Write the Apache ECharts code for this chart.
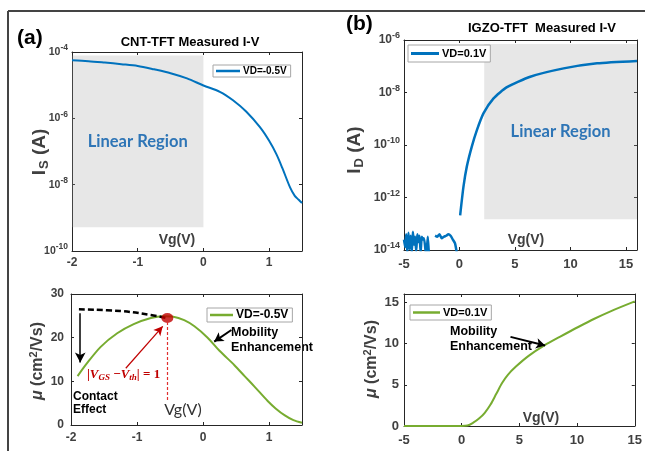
<!DOCTYPE html>
<html>
<head>
<meta charset="utf-8">
<script src="https://cdn.jsdelivr.net/npm/echarts@6/dist/echarts.min.js"></script>
<style>
  html, body { margin: 0; padding: 0; background: #fff; }
  #chart { width: 645px; height: 451px; }
</style>
</head>
<body>
<div id="chart"></div>
<script>
// ---- data ----
// (a) CNT-TFT transfer curve, VD=-0.5V
var cntVg = [-2, -1.75, -1.5, -1.25, -1, -0.75, -0.5, -0.25, 0, 0.25, 0.45, 0.65, 0.86, 1.0, 1.11, 1.2, 1.32, 1.39, 1.45, 1.5];
var cntIs = [5.6e-5, 5.3e-5, 4.8e-5, 4.3e-5, 3.8e-5, 3.0e-5, 2.3e-5, 1.6e-5, 9.8e-6, 6.3e-6, 3.5e-6, 1.6e-6, 5.4e-7, 2.1e-7, 8.3e-8, 3.2e-8, 8.1e-9, 4.6e-9, 3.5e-9, 2.8e-9];
var cntLinear = [[-2, 7.9e-5], [0, 5.2e-10]];

// (b) IGZO-TFT transfer curve, VD=0.1V (null = gap in the trace)
var igzoVg = [-5.0, -4.9, -4.8, -4.7, -4.6, -4.5, -4.4, -4.3, -4.2, -4.1, -4.0, -3.9, -3.8, -3.7, -3.6, -3.5, -3.4, -3.3, -3.2,
              -3.0, -2.85, -2.75, -2.5,
              -2.2, -2.0, -1.8, -1.6, -1.4, -1.2, -1.0, -0.8, -0.6, -0.4, -0.2, 0.0,
              0.06, 0.36, 0.66, 1.11, 1.57, 2.16, 3.07, 4.28, 6.38, 9.39, 12.4, 16];
var igzoId = [2.5e-14, 1.3e-14, 4e-14, 8e-15, 4.5e-14, 1.1e-14, 3.5e-14, 8e-15, 5e-14, 1.6e-14, 3.2e-14, 9e-15, 4e-14, 2e-14, 3.5e-14, 8e-15, 3.2e-14, 2.5e-14, 2.8e-14,
              6e-15, 3.2e-14, 6e-15, null,
              3.5e-14, 3.2e-14, 4e-14, 2.8e-14, 3.2e-14, 3.5e-14, 4e-14, 3.5e-14, 2.5e-14, 1.8e-14, 6e-15, null,
              2.1e-13, 2.6e-12, 1.5e-11, 8.7e-11, 3.7e-10, 1.6e-9, 6.0e-9, 1.6e-8, 4.0e-8, 8.3e-8, 1.3e-7, 1.6e-7];
var igzoLinear = [[2.23, 7.1e-7], [16, 1.5e-13]];

// (a) mobility
var cntMuVg = [-1.9, -1.76, -1.55, -1.3, -1.05, -0.79, -0.6, -0.45, -0.285, -0.13, 0.07, 0.25, 0.476, 0.63, 0.78, 0.98, 1.1, 1.24, 1.37, 1.5];
var cntMu = [11.2, 14.1, 17.9, 21.0, 23.1, 24.5, 24.9, 24.8, 24.0, 22.6, 20.0, 17.0, 13.7, 11.2, 8.8, 5.5, 3.8, 2.2, 1.1, 0.5];
var cntExtrapVg = [-1.88, -1.25, -0.79, -0.56];
var cntExtrapMu = [26.5, 26.1, 25.2, 24.5];
var dotVg = [-0.54];
var dotMu = [24.5];

// (b) mobility
var igzoMuVg = [-5, -2, 0, 0.5, 1, 1.5, 2, 2.5, 3, 3.5, 4, 4.7, 5.8, 7.2, 8.5, 10.1, 11.5, 12.9, 15];
var igzoMu = [0, 0, 0, 0.05, 0.4, 0.9, 1.6, 2.6, 3.9, 5.2, 6.2, 7.2, 8.5, 9.8, 10.8, 12.0, 13.0, 13.9, 15.1];

var legendLabels = { cntIV: 'VD=-0.5V', igzoIV: 'VD=0.1V', cntMu: 'VD=-0.5V', igzoMu: 'VD=0.1V' };

function pairs(xs, ys) {
  return xs.map(function (x, i) { return [x, ys[i]]; });
}

var FONT = 'Liberation Sans';
var AX = '#262626';
var LBL = '#404040';
var BLUE = '#0072BD';
var GREEN = '#77AC30';
var RED = '#C00000';

function logLabel(size, sup) {
  return {
    color: LBL, fontFamily: FONT, fontWeight: 'bold', fontSize: size, margin: 4,
    formatter: function (v) { return '{b|10}{s|' + Math.round(Math.log10(v)) + '}'; },
    rich: {
      b: { fontSize: size, fontWeight: 'bold', fontFamily: FONT, color: LBL },
      s: { fontSize: sup, fontWeight: 'bold', fontFamily: FONT, color: LBL, padding: [0, 0, 8, 0] }
    }
  };
}

// bottom/left axis with labels plus a mirrored top/right one with ticks only
function axisPair(dim, gi, cfg, label) {
  var base = {
    type: cfg.type || 'value', gridIndex: gi, min: cfg.min, max: cfg.max, interval: cfg.interval,
    axisLine: { show: true, onZero: false, lineStyle: { color: AX, width: 1 } },
    axisTick: { show: true, inside: true, length: 3, lineStyle: { color: AX } },
    splitLine: { show: false }
  };
  if (cfg.type === 'log') base.logBase = 10;
  var a = Object.assign({}, base, {
    position: dim === 'x' ? 'bottom' : 'left',
    axisLabel: Object.assign({ showMaxLabel: false }, label)
  });
  var b = Object.assign({}, base, {
    position: dim === 'x' ? 'top' : 'right',
    axisLabel: { show: false }
  });
  return [a, b];
}

function numLabel(size, margin) {
  return { color: LBL, fontFamily: FONT, fontWeight: 'bold', fontSize: size, margin: margin };
}

var xAxes = [].concat(
  axisPair('x', 0, { min: -2, max: 1.5, interval: 1 }, numLabel(12, 6)),
  axisPair('x', 1, { min: -5, max: 16, interval: 5 }, numLabel(13, 8)),
  axisPair('x', 2, { min: -2, max: 1.5, interval: 1 }, numLabel(12, 7)),
  axisPair('x', 3, { min: -5, max: 15, interval: 5 }, Object.assign(numLabel(13, 8), { showMaxLabel: true }))
);
var yAxes = [].concat(
  axisPair('y', 0, { type: 'log', min: 1e-10, max: 1e-4, interval: 2 }, logLabel(10.5, 8.5)),
  axisPair('y', 1, { type: 'log', min: 1e-14, max: 1e-6, interval: 2 }, logLabel(12, 9)),
  axisPair('y', 2, { min: 0, max: 30, interval: 10 }, Object.assign(numLabel(12, 7), { showMaxLabel: true })),
  axisPair('y', 3, { min: 0, max: 16, interval: 5 }, numLabel(13, 5))
);
xAxes[7].axisLabel = { show: false };

function legendFor(name, left, top, fs, iw, ih, pad) {
  return {
    data: [name], left: left, top: top, orient: 'horizontal',
    icon: 'rect', itemWidth: iw, itemHeight: ih, itemGap: 0,
    padding: pad, borderColor: '#a6a6a6', borderWidth: 1, backgroundColor: '#fff',
    borderRadius: 0, selectedMode: false,
    textStyle: { fontFamily: FONT, fontWeight: 'bold', fontSize: fs, color: '#000', padding: [0, 0, 0, -2] },
    formatter: function (n) { return legendLabels[n]; }
  };
}

function arrow(p1, p2, color, width, size) {
  return [
    { coord: p1, symbol: 'none', lineStyle: { color: color, width: width, type: 'solid' } },
    { coord: p2, symbol: 'arrow', symbolSize: size, lineStyle: { color: color, width: width, type: 'solid' } }
  ];
}

var regionLabel = {
  show: true, position: 'inside', color: '#2E75B6',
  fontFamily: 'Lato', fontWeight: 'bold', fontSize: 16.5
};

var option = {
  animation: false,
  backgroundColor: '#fff',
  grid: [
    { left: 72, top: 52, width: 230, height: 199 },
    { left: 404, top: 40, width: 233, height: 210 },
    { left: 71, top: 294, width: 231, height: 131 },
    { left: 404, top: 294, width: 234, height: 132 }
  ],
  xAxis: xAxes,
  yAxis: yAxes,
  legend: [
    legendFor('cntIV', 213, 65, 10, 24, 2.5, [1, 4, 1, 3]),
    legendFor('igzoIV', 408, 45, 11, 28, 3, [3, 4, 3, 3]),
    legendFor('cntMu', 207, 308, 12, 23, 2.5, [1, 4, 1, 3]),
    legendFor('igzoMu', 410, 305, 11, 27, 2.5, [2, 4, 2, 3])
  ],
  series: [
    {
      name: 'cntIV', type: 'line', xAxisIndex: 0, yAxisIndex: 0,
      data: pairs(cntVg, cntIs), showSymbol: false, smooth: 0.3,
      lineStyle: { color: BLUE, width: 2 }, itemStyle: { color: BLUE },
      markArea: {
        silent: true, z: 3,
        itemStyle: { color: 'rgba(160,160,160,0.25)' },
        label: regionLabel,
        data: [[{ coord: cntLinear[0], name: 'Linear Region' }, { coord: cntLinear[1] }]]
      }
    },
    {
      name: 'igzoIV', type: 'line', xAxisIndex: 2, yAxisIndex: 2,
      data: pairs(igzoVg, igzoId), showSymbol: false, connectNulls: false, smooth: 0.2,
      lineStyle: { color: BLUE, width: 2.5 }, itemStyle: { color: BLUE },
      markArea: {
        silent: true, z: 3,
        itemStyle: { color: 'rgba(160,160,160,0.25)' },
        label: regionLabel,
        data: [[{ coord: igzoLinear[0], name: 'Linear Region' }, { coord: igzoLinear[1] }]]
      }
    },
    {
      name: 'cntMu', type: 'line', xAxisIndex: 4, yAxisIndex: 4,
      data: pairs(cntMuVg, cntMu), showSymbol: false, smooth: 0.3,
      lineStyle: { color: GREEN, width: 2 }, itemStyle: { color: GREEN },
      markLine: {
        silent: true, label: { show: false }, symbol: ['none', 'none'],
        data: [
          [
            { coord: [-0.54, 23.6], symbol: 'none', lineStyle: { color: '#E03030', width: 1.2, type: [3, 2] } },
            { coord: [-0.54, 5.3], symbol: 'none', lineStyle: { color: '#E03030', width: 1.2, type: [3, 2] } }
          ],
          arrow([-1.17, 13.0], [-0.61, 22.6], RED, 1.2, [7, 9]),
          arrow([-1.86, 25.6], [-1.86, 14.3], '#000', 1.5, [8, 10]),
          arrow([0.43, 21.75], [0.17, 19.1], '#000', 2, [8, 9])
        ]
      }
    },
    {
      name: 'cntExtrap', type: 'line', xAxisIndex: 4, yAxisIndex: 4,
      data: pairs(cntExtrapVg, cntExtrapMu), showSymbol: false, smooth: 0.4, z: 3,
      lineStyle: { color: '#000', width: 2.5, type: [6, 3] }
    },
    {
      name: 'cntDot', type: 'scatter', xAxisIndex: 4, yAxisIndex: 4, z: 4,
      data: pairs(dotVg, dotMu), symbol: 'circle', symbolSize: [12, 10],
      itemStyle: { color: RED }
    },
    {
      name: 'igzoMu', type: 'line', xAxisIndex: 6, yAxisIndex: 6,
      data: pairs(igzoMuVg, igzoMu), showSymbol: false, smooth: 0.3,
      lineStyle: { color: GREEN, width: 2 }, itemStyle: { color: GREEN },
      markLine: {
        silent: true, label: { show: false }, symbol: ['none', 'none'],
        data: [arrow([4.23, 10.8], [7.23, 9.75], '#000', 2, [8, 9])]
      }
    }
  ]
};

function txt(x, y, text, font, fill, align, extra) {
  return Object.assign({
    type: 'text', x: x, y: y, silent: true,
    style: { text: text, font: font, fill: fill, align: align || 'center', verticalAlign: 'middle' }
  }, extra || {});
}

function yName(x, y, main, sub, rest) {
  return {
    type: 'text', x: x, y: y, rotation: Math.PI / 2, silent: true,
    style: {
      text: '{m|' + main + '}' + (sub ? '{d|' + sub + '}' : '') + '{m|' + rest + '}',
      align: 'center', verticalAlign: 'middle',
      rich: {
        m: { fontFamily: FONT, fontWeight: 'bold', fontSize: 19, fill: LBL },
        d: { fontFamily: FONT, fontWeight: 'bold', fontSize: 13, fill: LBL, padding: [9, 0, 0, 1] }
      }
    }
  };
}

function muName(x, y) {
  return {
    type: 'text', x: x, y: y, rotation: Math.PI / 2, silent: true,
    style: {
      text: '{i|μ}{m| (cm}{s|2}{m|/Vs)}',
      align: 'center', verticalAlign: 'middle',
      rich: {
        i: { fontFamily: FONT, fontWeight: 'bold', fontStyle: 'italic', fontSize: 16, fill: LBL },
        m: { fontFamily: FONT, fontWeight: 'bold', fontSize: 16, fill: LBL },
        s: { fontFamily: FONT, fontWeight: 'bold', fontSize: 11, fill: LBL, padding: [0, 0, 8, 0] }
      }
    }
  };
}

var mathRich = {
  v: { fontFamily: 'Liberation Serif', fontStyle: 'italic', fontWeight: 'bold', fontSize: 13, fill: RED },
  n: { fontFamily: 'Liberation Serif', fontWeight: 'bold', fontSize: 13, fill: RED },
  d: { fontFamily: 'Liberation Serif', fontStyle: 'italic', fontWeight: 'bold', fontSize: 9, fill: RED, padding: [6, 0, 0, 0] }
};

option.graphic = [
  // outer frame
  { type: 'line', silent: true, shape: { x1: 8, y1: 11, x2: 645, y2: 11 }, style: { stroke: '#444', lineWidth: 2 } },
  { type: 'line', silent: true, shape: { x1: 8, y1: 11, x2: 8, y2: 451 }, style: { stroke: '#444', lineWidth: 2 } },
  // panel letters and titles
  txt(17, 38, '(a)', 'bold 21px ' + FONT, '#000', 'left'),
  txt(346, 24, '(b)', 'bold 21px ' + FONT, '#000', 'left'),
  txt(190, 42, 'CNT-TFT Measured I-V', 'bold 13px ' + FONT, '#000'),
  txt(542, 28, 'IGZO-TFT  Measured I-V', 'bold 13px ' + FONT, '#000'),
  // axis names
  yName(40, 152, 'I', 'S', ' (A)'),
  yName(355, 150, 'I', 'D', ' (A)'),
  muName(38, 361),
  muName(372, 359),
  txt(177, 240, 'Vg(V)', 'bold 14px ' + FONT, LBL),
  txt(526, 240, 'Vg(V)', 'bold 14px ' + FONT, LBL),
  txt(183, 410, 'Vg(V)', '16px Lato', '#333'),
  txt(541, 418, 'Vg(V)', 'bold 14px ' + FONT, LBL),
  // annotations
  txt(73, 396.5, 'Contact', 'bold 12px ' + FONT, '#000', 'left'),
  txt(73, 410, 'Effect', 'bold 12px ' + FONT, '#000', 'left'),
  txt(231, 333, 'Mobility', 'bold 12.5px ' + FONT, '#000', 'left'),
  txt(231, 348, 'Enhancement', 'bold 12.5px ' + FONT, '#000', 'left'),
  txt(450, 331.5, 'Mobility', 'bold 12.5px ' + FONT, '#000', 'left'),
  txt(450, 346.5, 'Enhancement', 'bold 12.5px ' + FONT, '#000', 'left'),
  {
    type: 'text', x: 87, y: 375, silent: true,
    style: {
      text: '{n||}{v|V}{d|GS}{n| −}{v|V}{d|th}{n|| = 1}',
      align: 'left', verticalAlign: 'middle', rich: mathRich
    }
  }
];

var chart = echarts.init(document.getElementById('chart'));
chart.setOption(option);
</script>
</body>
</html>
